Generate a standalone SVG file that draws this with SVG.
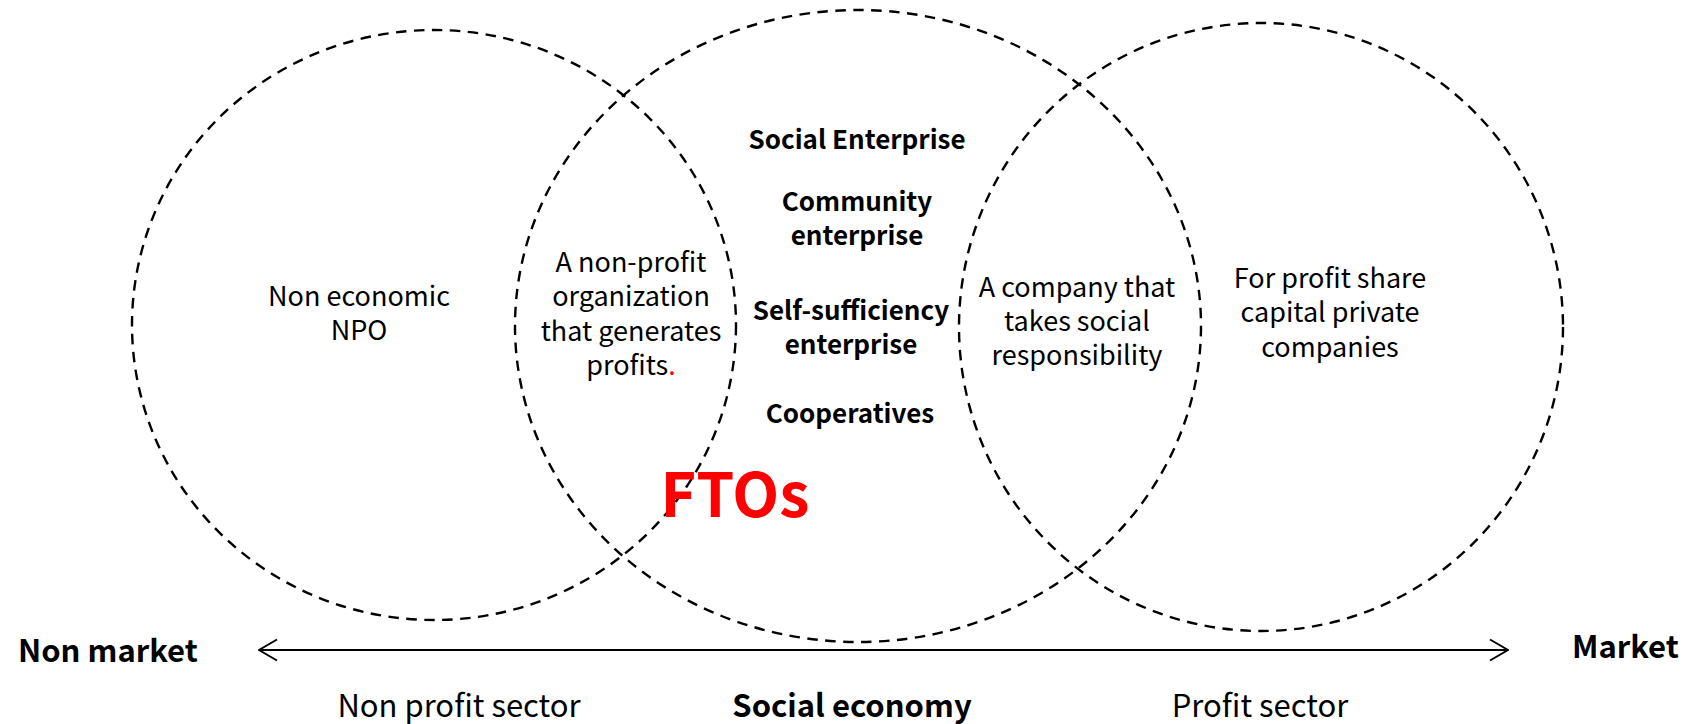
<svg xmlns="http://www.w3.org/2000/svg" width="1686" height="724" viewBox="0 0 1686 724">
  <style>
    .ring { fill: none; stroke: #000; stroke-width: 2.4; stroke-dasharray: 10.5 7.5; }
    .txt { font-family: "Noto Sans CJK KR", "Noto Sans", sans-serif; fill: #000; text-anchor: middle; }
    .reg { font-size: 27px; font-weight: 400; }
    .bold { font-size: 26px; font-weight: 700; }
    .axis { font-size: 31px; }
    .end { font-size: 31px; font-weight: 700; text-anchor: start; }
    .fto { font-size: 61px; font-weight: 700; fill: #ff0000; }
    .axisline { stroke: #000; stroke-width: 2; fill: none; }
  </style>
  <defs>
    <marker id="chev" viewBox="0 0 20 24" refX="19" refY="12" markerWidth="20" markerHeight="24" markerUnits="userSpaceOnUse" orient="auto-start-reverse">
      <path d="M1,1.5 L19,12 L1,22.5" fill="none" stroke="#000" stroke-width="2"/>
    </marker>
  </defs>

  <rect width="1686" height="724" fill="#fff"/>

  <!-- sector circles -->
  <g id="nonprofit-circle">
    <ellipse class="ring" cx="434" cy="325" rx="302" ry="295"/>
    <text class="txt reg" x="359" y="306">Non economic<tspan x="359" dy="34">NPO</tspan></text>
  </g>

  <g id="social-economy-circle">
    <ellipse class="ring" cx="858" cy="326" rx="343" ry="316"/>
    <text class="txt bold" x="857" y="149">Social Enterprise</text>
    <text class="txt bold" x="857" y="211">Community<tspan x="857" dy="34">enterprise</tspan></text>
    <text class="txt bold" x="851" y="320">Self-sufficiency<tspan x="851" dy="34">enterprise</tspan></text>
    <text class="txt bold" x="850" y="423">Cooperatives</text>
  </g>

  <g id="profit-circle">
    <ellipse class="ring" cx="1261" cy="327" rx="302" ry="304"/>
    <text class="txt reg" x="1330" y="288">For profit share<tspan x="1330" dy="34">capital private</tspan><tspan x="1330" dy="35">companies</tspan></text>
  </g>

  <!-- overlap labels -->
  <g id="overlap-left">
    <text class="txt reg" x="631" y="272">A non-profit<tspan x="631" dy="34">organization</tspan><tspan x="631" dy="35">that generates</tspan><tspan x="631" dy="34">profits</tspan><tspan fill="#ff0000">.</tspan></text>
  </g>

  <g id="overlap-right">
    <text class="txt reg" x="1077" y="297">A company that<tspan x="1077" dy="34">takes social</tspan><tspan x="1077" dy="34">responsibility</tspan></text>
  </g>

  <g id="ftos">
    <text class="txt fto" x="735" y="517">FTOs</text>
  </g>

  <!-- market axis -->
  <g id="connectors">
    <line class="axisline" x1="259" y1="650" x2="1508" y2="650" marker-start="url(#chev)" marker-end="url(#chev)"/>
  </g>

  <g id="axis-labels">
    <text class="txt end" x="18" y="662">Non market</text>
    <text class="txt end" x="1572" y="658">Market</text>
    <text class="txt axis" x="459" y="717">Non profit sector</text>
    <text class="txt axis" x="852" y="717" font-weight="700">Social economy</text>
    <text class="txt axis" x="1260" y="717">Profit sector</text>
  </g>
</svg>
